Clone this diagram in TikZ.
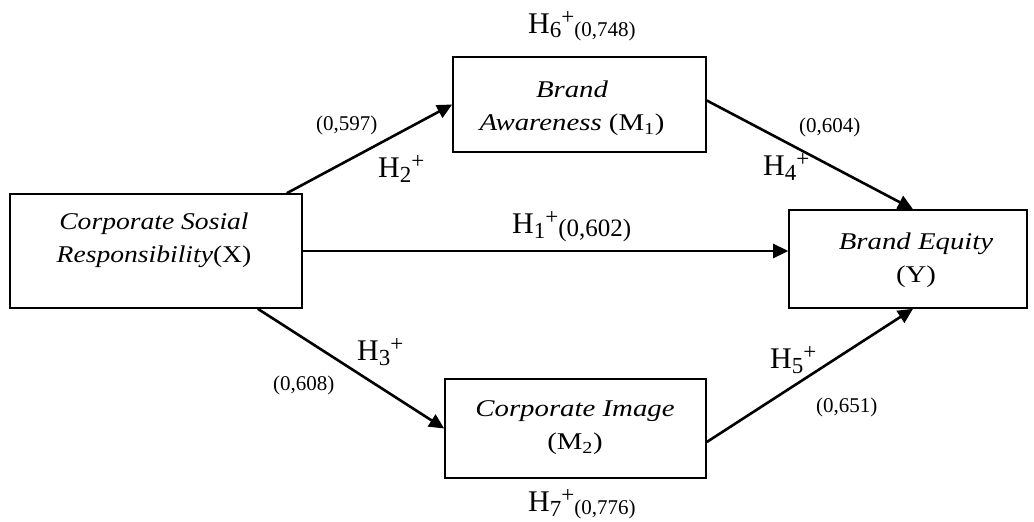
\documentclass[tikz,border=0pt]{standalone}
\usepackage{fontspec}
\usepackage{graphicx}
\setmainfont{Liberation Serif}
\usetikzlibrary{arrows.meta}
\newcommand{\sx}[1]{\scalebox{1.2}[1]{#1}}
\newcommand{\sxx}[1]{\scalebox{1.15}[1]{#1}}
\newcommand{\hyp}[1]{{\fontsize{30}{30}\selectfont H}\raisebox{-5pt}{\fontsize{23}{23}\selectfont #1}\raisebox{9pt}{\fontsize{23}{23}\selectfont +}}
\newcommand{\hv}[2]{\raisebox{-3pt}{\fontsize{#1}{#1}\selectfont #2}}
\tikzset{
  box/.style={draw, line width=1.6pt, inner sep=0pt},
  boxtext/.style={align=center, inner sep=0pt, font=\fontsize{24}{33}\selectfont},
  lbl/.style={anchor=base west, inner sep=0pt},
  num/.style={anchor=base west, inner sep=0pt, font=\fontsize{21}{21}\selectfont},
  arr/.style={line width=2.6pt, -{Triangle[length=15pt,width=14pt]}}
}
\begin{document}
\begin{tikzpicture}[x=1pt,y=-1pt]
\useasboundingbox (0,0) rectangle (1034,522);
% boxes
\node[box, minimum width=292pt, minimum height=114pt] (X) at (156,251) {};
\node[box, minimum width=253pt, minimum height=95pt] (M1) at (579.5,104.5) {};
\node[box, minimum width=261pt, minimum height=99pt] (M2) at (575.5,428.5) {};
\node[box, minimum width=238pt, minimum height=98pt] (Y) at (908,259) {};
% box texts
\node[boxtext] (Xt) at (154,240) {\sxx{\itshape Corporate Sosial}\\\sxx{\itshape Responsibility\upshape(X)}};
\node[boxtext] (M1t) at (572,108.5) {\sx{\itshape Brand}\\\sx{\itshape Awareness \upshape(M\textsubscript{1})}};
\node[boxtext] (M2t) at (575,427.5) {\sx{\itshape Corporate Image}\\\sx{(M\textsubscript{2})}};
\node[boxtext] (Yt) at (916,260.5) {\sx{\itshape Brand Equity}\\\sx{(Y)}};
% arrows
\draw[arr] ([xshift=-16pt]X.north east) -- (M1.west);
\draw[arr] (X.east) -- (X.east -| Y.west);
\draw[arr] ([xshift=-45pt]X.south east) -- (M2.west);
\draw[arr] ([yshift=4pt]M1.east) -- ([xshift=5pt]Y.north);
\draw[arr] ([yshift=-13.5pt]M2.east) -- ([xshift=5pt]Y.south);
% hypothesis labels
\node[lbl] (h6) at (528,33) {\hyp{6}\hv{21}{(0,748)}};
\node[lbl] (h7) at (528,511) {\hyp{7}\hv{21}{(0,776)}};
\node[lbl] (h1) at (512,233) {\hyp{1}\hv{25}{(0,602)}};
\node[lbl] (h2) at (378,177) {\hyp{2}};
\node[lbl] (h3) at (357,360) {\hyp{3}};
\node[lbl] (h4) at (763,175) {\hyp{4}};
\node[lbl] (h5) at (770,368) {\hyp{5}};
% coefficients
\node[num] (n2) at (316,130) {(0,597)};
\node[num] (n3) at (273,390) {(0,608)};
\node[num] (n4) at (799,132) {(0,604)};
\node[num] (n5) at (816,412) {(0,651)};
\end{tikzpicture}
\end{document}
